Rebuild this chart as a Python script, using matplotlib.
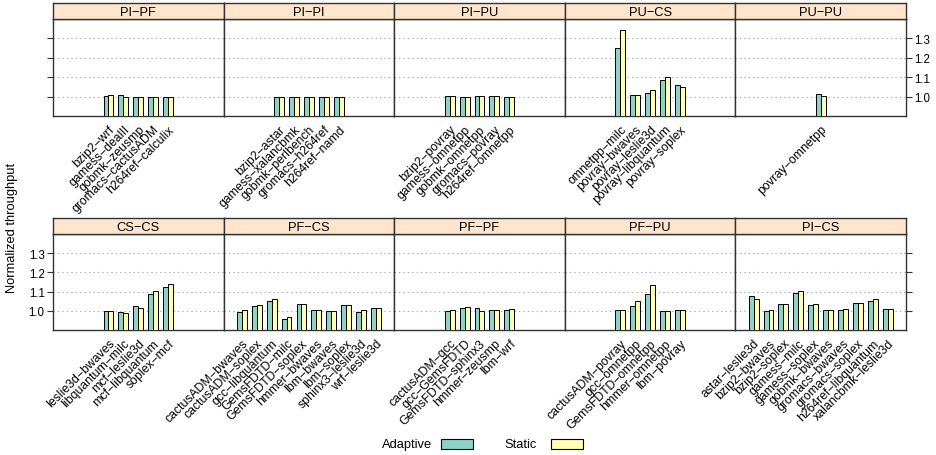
import matplotlib
matplotlib.use("Agg")
import matplotlib.pyplot as plt
from matplotlib.patches import Rectangle

plt.rcParams['font.family'] = ['Liberation Sans', 'DejaVu Sans']

M = "\u2212"
def L(s):
    return s.replace("-", M)

# ---- data ----
top_panels = ["PI-PF", "PI-PI", "PI-PU", "PU-CS", "PU-PU"]
bottom_panels = ["CS-CS", "PF-CS", "PF-PF", "PF-PU", "PI-CS"]

labels_pi_pf = ["bzip2-wrf", "gamess-dealII", "gobmk-zeusmp", "gromacs-cactusADM", "h264ref-calculix"]
adaptive_pi_pf = [1.003, 1.007, 1.000, 0.998, 1.000]
static_pi_pf = [1.010, 0.996, 0.997, 0.998, 0.999]

labels_pi_pi = ["bzip2-astar", "gamess-xalancbmk", "gobmk-perlbench", "gromacs-h264ref", "h264ref-namd"]
adaptive_pi_pi = [1.000, 1.000, 1.000, 0.999, 0.999]
static_pi_pi = [1.000, 1.000, 1.000, 1.000, 0.999]

labels_pi_pu = ["bzip2-povray", "gamess-omnetpp", "gobmk-omnetpp", "gromacs-povray", "h264ref-omnetpp"]
adaptive_pi_pu = [1.002, 1.000, 1.004, 1.004, 0.999]
static_pi_pu = [1.002, 1.000, 1.004, 1.003, 0.998]

labels_pu_cs = ["omnetpp-milc", "povray-bwaves", "povray-leslie3d", "povray-libquantum", "povray-soplex"]
adaptive_pu_cs = [1.248, 1.008, 1.021, 1.088, 1.058]
static_pu_cs = [1.343, 1.007, 1.033, 1.100, 1.050]

labels_pu_pu = ["povray-omnetpp"]
adaptive_pu_pu = [1.013]
static_pu_pu = [1.003]

labels_cs_cs = ["leslie3d-bwaves", "libquantum-milc", "mcf-leslie3d", "mcf-libquantum", "soplex-mcf"]
adaptive_cs_cs = [1.000, 0.992, 1.023, 1.090, 1.123]
static_cs_cs = [1.000, 0.988, 1.016, 1.103, 1.137]

labels_pf_cs = ["cactusADM-bwaves", "cactusADM-soplex", "gcc-libquantum", "GemsFDTD-milc", "GemsFDTD-soplex",
                "hmmer-bwaves", "lbm-bwaves", "lbm-soplex", "sphinx3-leslie3d", "wrf-leslie3d"]
adaptive_pf_cs = [0.995, 1.024, 1.052, 0.957, 1.037, 1.002, 0.997, 1.028, 0.996, 1.012]
static_pf_cs = [1.002, 1.030, 1.063, 0.969, 1.037, 1.002, 1.000, 1.028, 1.004, 1.013]

labels_pf_pf = ["cactusADM-gcc", "gcc-GemsFDTD", "GemsFDTD-sphinx3", "hmmer-zeusmp", "lbm-wrf"]
adaptive_pf_pf = [0.997, 1.015, 1.014, 1.003, 1.002]
static_pf_pf = [1.003, 1.019, 0.997, 1.002, 1.007]

labels_pf_pu = ["cactusADM-povray", "gcc-omnetpp", "GemsFDTD-omnetpp", "hmmer-omnetpp", "lbm-povray"]
adaptive_pf_pu = [1.002, 1.024, 1.085, 0.997, 1.005]
static_pf_pu = [1.005, 1.050, 1.132, 1.000, 1.002]

labels_pi_cs = ["astar-leslie3d", "bzip2-bwaves", "bzip2-soplex", "gamess-milc", "gamess-soplex",
                "gobmk-bwaves", "gromacs-bwaves", "gromacs-soplex", "h264ref-libquantum", "xalancbmk-leslie3d"]
adaptive_pi_cs = [1.075, 0.998, 1.033, 1.094, 1.031, 1.003, 1.002, 1.040, 1.050, 1.010]
static_pi_cs = [1.064, 1.005, 1.036, 1.102, 1.036, 1.002, 1.007, 1.043, 1.059, 1.010]

yticks = [1.0, 1.1, 1.2, 1.3]

data = {
    "PI-PF": (labels_pi_pf, adaptive_pi_pf, static_pi_pf),
    "PI-PI": (labels_pi_pi, adaptive_pi_pi, static_pi_pi),
    "PI-PU": (labels_pi_pu, adaptive_pi_pu, static_pi_pu),
    "PU-CS": (labels_pu_cs, adaptive_pu_cs, static_pu_cs),
    "PU-PU": (labels_pu_pu, adaptive_pu_pu, static_pu_pu),
    "CS-CS": (labels_cs_cs, adaptive_cs_cs, static_cs_cs),
    "PF-CS": (labels_pf_cs, adaptive_pf_cs, static_pf_cs),
    "PF-PF": (labels_pf_pf, adaptive_pf_pf, static_pf_pf),
    "PF-PU": (labels_pf_pu, adaptive_pf_pu, static_pf_pu),
    "PI-CS": (labels_pi_cs, adaptive_pi_cs, static_pi_cs),
}

# ---- style ----
W, H = 937, 456
C_AD = "#8DD3C7"
C_ST = "#FFFFB3"
STRIP = "#FFE5CC"
FRAME = "#333333"
YMIN, YMAX = 0.9, 1.4
HALF = 5.72
BW = 0.33
FS = 9.3

fig = plt.figure(figsize=(W / 100, H / 100), dpi=100)

def fx(px):
    return px / W

def fy(py):
    return 1 - py / H

x0, x1 = 53, 906
pw = (x1 - x0) / 5
rows = [(top_panels, 4, 20, 117), (bottom_panels, 219, 235, 331)]

for r, (names, s_top, p_top, p_bot) in enumerate(rows):
    for i, name in enumerate(names):
        left = x0 + i * pw
        ax = fig.add_axes([fx(left), fy(p_bot), pw / W, (p_bot - p_top) / H])
        sax = fig.add_axes([fx(left), fy(p_top), pw / W, (p_top - s_top) / H])
        labels, ad, st = data[name]
        n = len(labels)
        pos = list(range(n))
        c = (n - 1) / 2
        ax.bar([p - BW / 2 for p in pos], [v - YMIN for v in ad], width=BW, bottom=YMIN,
               color=C_AD, edgecolor="black", linewidth=0.7, zorder=3)
        ax.bar([p + BW / 2 for p in pos], [v - YMIN for v in st], width=BW, bottom=YMIN,
               color=C_ST, edgecolor="black", linewidth=0.7, zorder=3)
        ax.set_xlim(c - HALF, c + HALF)
        ax.set_ylim(YMIN, YMAX)
        for yv in yticks:
            ax.axhline(yv, color="#AAAAAA", linewidth=0.8, linestyle=(0, (1.2, 2.8)), zorder=1)
        ax.set_xticks(pos)
        ax.set_xticklabels([L(s) for s in labels], rotation=45, ha="right",
                           rotation_mode="anchor", fontsize=8.8)
        ax.tick_params(axis="x", length=0, pad=5)
        ax.set_yticks(yticks)
        ax.tick_params(axis="y", length=4, width=0.8, color=FRAME, labelsize=8.3, pad=2)
        ax.yaxis.set_major_formatter(matplotlib.ticker.FormatStrFormatter("%.1f"))
        if r == 0:
            if i == 0:
                ax.tick_params(axis="y", left=True, right=False, labelleft=False, labelright=False)
            elif i == 4:
                ax.tick_params(axis="y", left=False, right=True, labelleft=False, labelright=True)
            else:
                ax.tick_params(axis="y", left=False, right=False, labelleft=False, labelright=False)
        else:
            if i == 0:
                ax.tick_params(axis="y", left=True, right=False, labelleft=True, labelright=False)
            elif i == 4:
                ax.tick_params(axis="y", left=False, right=True, labelleft=False, labelright=False)
            else:
                ax.tick_params(axis="y", left=False, right=False, labelleft=False, labelright=False)
        for sp in ax.spines.values():
            sp.set_color(FRAME)
            sp.set_linewidth(1.0)
        # strip
        sax.set_facecolor(STRIP)
        sax.set_xticks([])
        sax.set_yticks([])
        for sp in sax.spines.values():
            sp.set_color(FRAME)
            sp.set_linewidth(1.0)
        sax.text(0.5, 0.45, L(name), ha="center", va="center", fontsize=FS,
                 transform=sax.transAxes)

fig.text(fx(12), fy(228), "Normalized throughput", rotation=90, ha="center", va="center",
         fontsize=FS)

# legend
ly = 445
fig.text(fx(432), fy(ly), "Adaptive", ha="right", va="center", fontsize=FS)
fig.patches.append(Rectangle((fx(441), fy(ly + 5)), 32 / W, 10 / H, transform=fig.transFigure,
                             facecolor=C_AD, edgecolor="black", linewidth=0.8))
fig.text(fx(537), fy(ly), "Static", ha="right", va="center", fontsize=FS)
fig.patches.append(Rectangle((fx(551), fy(ly + 5)), 32 / W, 10 / H, transform=fig.transFigure,
                             facecolor=C_ST, edgecolor="black", linewidth=0.8))

fig.savefig("out.png", dpi=100)
